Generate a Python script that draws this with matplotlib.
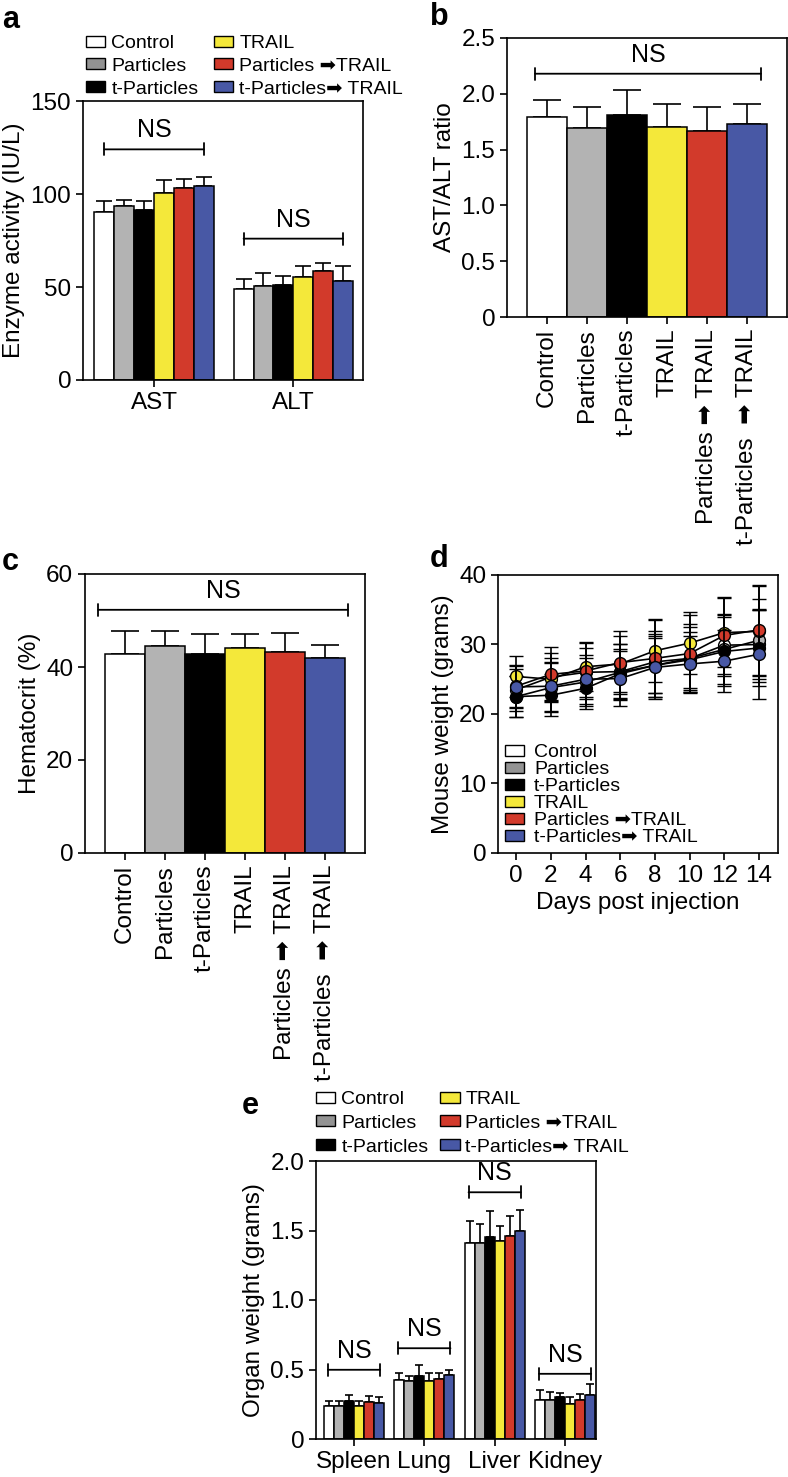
import numpy as np
import matplotlib
matplotlib.use('Agg')
import matplotlib.pyplot as plt
from matplotlib.patches import Patch

plt.rcParams['font.family'] = ['Liberation Sans', 'DejaVu Sans']
plt.rcParams['axes.linewidth'] = 1.2
plt.rcParams['xtick.major.width'] = 1.2
plt.rcParams['ytick.major.width'] = 1.2
plt.rcParams['xtick.major.size'] = 5
plt.rcParams['ytick.major.size'] = 5
plt.rcParams['font.size'] = 17.5

# ---------------- data ----------------
groups = ['Control', 'Particles', 't-Particles', 'TRAIL',
          'Particles \u27a1TRAIL', 't-Particles\u27a1 TRAIL']
tick_groups = ['Control', 'Particles', 't-Particles', 'TRAIL',
               'Particles \u27a1 TRAIL', 't-Particles  \u27a1 TRAIL']
colors = ['#ffffff', '#b3b3b3', '#000000', '#f4e83a', '#d23a2b', '#4858a5']
legend_colors = ['#ffffff', '#939393', '#000000', '#f4e83a', '#d23a2b', '#4858a5']

# panel a: enzyme activity (IU/L)
enzymes = ['AST', 'ALT']
ast_mean = [90.5, 93.4, 91.4, 100.4, 103.4, 104.1]
ast_err = [5.9, 3.4, 5.0, 6.9, 4.6, 5.0]
alt_mean = [48.7, 50.5, 51.1, 55.4, 58.4, 53.4]
alt_err = [5.6, 7.2, 5.0, 5.7, 4.5, 8.1]
a_ns_y = [124, 76]

# panel b: AST/ALT ratio
ratio_mean = [1.79, 1.694, 1.806, 1.704, 1.669, 1.733]
ratio_err = [0.157, 0.189, 0.224, 0.205, 0.211, 0.176]
b_ns_y = 2.18

# panel c: hematocrit (%)
hct_mean = [42.8, 44.6, 42.9, 44.0, 43.2, 41.9]
hct_err = [5.0, 3.2, 4.1, 3.0, 4.2, 2.8]
c_ns_y = 52.3

# panel d: mouse weight (grams)
days = [0, 2, 4, 6, 8, 10, 12, 14]
w_control = [22.5, 23.8, 24.6, 26.0, 27.0, 28.0, 29.9, 30.0]
w_particles = [23.5, 25.3, 26.0, 26.1, 27.5, 28.0, 29.3, 30.6]
w_tparticles = [22.5, 22.7, 23.7, 25.8, 27.0, 27.8, 29.0, 29.5]
w_trail = [25.4, 25.0, 26.8, 27.2, 29.1, 30.2, 31.7, 31.9]
w_p_trail = [24.0, 25.7, 26.2, 27.4, 28.0, 28.7, 31.3, 32.1]
w_tp_trail = [23.9, 24.0, 25.0, 25.1, 26.7, 27.2, 27.6, 28.6]
sd_control = [3.0, 3.5, 3.5, 4.0, 4.5, 5.0, 4.5, 5.0]
sd_particles = [3.0, 3.5, 3.5, 4.0, 4.5, 4.5, 5.0, 6.0]
sd_tparticles = [3.0, 3.0, 3.0, 3.5, 4.0, 4.0, 5.0, 5.5]
sd_trail = [3.0, 3.0, 3.5, 4.0, 4.5, 4.5, 5.0, 6.5]
sd_p_trail = [3.0, 4.0, 4.0, 4.5, 5.5, 5.5, 5.5, 6.5]
sd_tp_trail = [3.0, 3.5, 3.5, 4.0, 4.5, 4.0, 4.5, 6.5]

# panel e: organ weight (grams)
organs = ['Spleen', 'Lung', 'Liver', 'Kidney']
spleen_mean = [0.234, 0.239, 0.270, 0.234, 0.268, 0.258]
spleen_err = [0.041, 0.036, 0.046, 0.041, 0.038, 0.041]
lung_mean = [0.421, 0.414, 0.450, 0.414, 0.430, 0.462]
lung_err = [0.053, 0.041, 0.079, 0.060, 0.044, 0.036]
liver_mean = [1.407, 1.411, 1.450, 1.421, 1.462, 1.498]
liver_err = [0.162, 0.134, 0.191, 0.110, 0.141, 0.148]
kidney_mean = [0.278, 0.278, 0.299, 0.254, 0.282, 0.316]
kidney_err = [0.071, 0.062, 0.031, 0.047, 0.041, 0.081]
e_ns_y = [0.498, 0.653, 1.775, 0.469]

# ---------------- layout ----------------
W, H = 788, 1477
fig = plt.figure(figsize=(W / 100, H / 100), dpi=100)


def axrect(l, t, w, h):
    return [l / W, 1 - (t + h) / H, w / W, h / H]


def ns_bracket(ax, x0, x1, y, fs=18):
    ax.annotate('', xy=(x0, y), xytext=(x1, y),
                arrowprops=dict(arrowstyle='|-|, widthA=0.25, widthB=0.25',
                                lw=1.3, color='k', shrinkA=0, shrinkB=0))
    ax.annotate('NS', xy=((x0 + x1) / 2, y), xytext=(0, 5),
                textcoords='offset points', ha='center', va='bottom', fontsize=fs)


def legend_handles():
    return [Patch(facecolor=c, edgecolor='k', linewidth=1.0) for c in legend_colors]


def grouped_bars(ax, means_list, errs_list, capsize):
    n = len(groups)
    w = 1.0 / (n + 1)
    for gi, (means, errs) in enumerate(zip(means_list, errs_list)):
        xs = gi + (np.arange(n) - (n - 1) / 2) * w
        ax.bar(xs, means, width=w, color=colors, edgecolor='k', linewidth=1.1, zorder=2)
        ax.errorbar(xs, means, yerr=[np.zeros(n), errs], fmt='none', ecolor='k',
                    elinewidth=1.2, capsize=capsize, capthick=1.2, zorder=1)
    return w


# ---- panel a ----
axa = fig.add_axes(axrect(83, 101, 280, 279))
w = grouped_bars(axa, [ast_mean, alt_mean], [ast_err, alt_err], 6)
axa.set_xlim(-0.51, 1.5)
axa.set_ylim(0, 150)
axa.set_yticks([0, 50, 100, 150])
axa.set_xticks(range(len(enzymes)))
axa.set_xticklabels(enzymes)
axa.set_ylabel('Enzyme activity (IU/L)')
for gi, y in enumerate(a_ns_y):
    ns_bracket(axa, gi - 2.5 * w, gi + 2.5 * w, y)
fig.legend(legend_handles(), groups, loc='upper left',
           bbox_to_anchor=(86 / W, 1 - 35 / H), bbox_transform=fig.transFigure,
           ncol=2, frameon=False, fontsize=14, borderpad=0, borderaxespad=0,
           handlelength=1.0, handleheight=0.5, handletextpad=0.3,
           labelspacing=0.3, columnspacing=0.8)
fig.text(2 / W, 1 - 28 / H, 'a', fontsize=22, fontweight='bold', va='baseline')


# ---- panels b & c ----
def single_bars(ax, means, errs, ns_y, ns_x0, ns_x1):
    x = np.arange(len(groups))
    ax.bar(x, means, width=1.0, color=colors, edgecolor='k', linewidth=1.1, zorder=2)
    ax.errorbar(x, means, yerr=[np.zeros(len(x)), errs], fmt='none', ecolor='k',
                elinewidth=1.2, capsize=10, capthick=1.2, zorder=1)
    ax.set_xlim(-1, 6)
    ax.set_xticks(x)
    ax.set_xticklabels(tick_groups, rotation=90, ha='center', va='top')
    ns_bracket(ax, ns_x0, ns_x1, ns_y)


axb = fig.add_axes(axrect(507, 38, 280, 279))
single_bars(axb, ratio_mean, ratio_err, b_ns_y, -0.3, 5.35)
axb.set_ylim(0, 2.5)
axb.set_yticks([0, 0.5, 1.0, 1.5, 2.0, 2.5])
axb.set_yticklabels(['0', '0.5', '1.0', '1.5', '2.0', '2.5'])
axb.set_ylabel('AST/ALT ratio')
fig.text(430 / W, 1 - 25 / H, 'b', fontsize=22, fontweight='bold', va='baseline')

axc = fig.add_axes(axrect(85, 574, 280, 279))
single_bars(axc, hct_mean, hct_err, c_ns_y, -0.67, 5.57)
axc.set_ylim(0, 60)
axc.set_yticks([0, 20, 40, 60])
axc.set_ylabel('Hematocrit (%)')
fig.text(2 / W, 1 - 570 / H, 'c', fontsize=22, fontweight='bold', va='baseline')

# ---- panel d ----
axd = fig.add_axes(axrect(498, 575, 280, 278))
series = [w_control, w_particles, w_tparticles, w_trail, w_p_trail, w_tp_trail]
sds = [sd_control, sd_particles, sd_tparticles, sd_trail, sd_p_trail, sd_tp_trail]
for k, (vals, sd) in enumerate(zip(series, sds)):
    axd.errorbar(days, vals, yerr=sd, fmt='-o', color='k', lw=1.2,
                 mfc=colors[k], mec='k', mew=1.0, ms=8.5,
                 ecolor='k', elinewidth=1.2, capsize=5, capthick=1.2, zorder=2 + k)
axd.set_xlim(-1.05, 15.1)
axd.set_ylim(0, 40)
axd.set_xticks(days)
axd.set_yticks([0, 10, 20, 30, 40])
axd.set_xlabel('Days post injection')
axd.set_ylabel('Mouse weight (grams)')
axd.legend(legend_handles(), groups, loc='lower left', frameon=False, fontsize=14,
           borderpad=0, borderaxespad=0.35, handlelength=1.0, handleheight=0.5,
           handletextpad=0.5, labelspacing=0.0)
fig.text(430 / W, 1 - 567 / H, 'd', fontsize=22, fontweight='bold', va='baseline')

# ---- panel e ----
axe = fig.add_axes(axrect(316, 1161, 280, 278))
w = grouped_bars(axe, [spleen_mean, lung_mean, liver_mean, kidney_mean],
                 [spleen_err, lung_err, liver_err, kidney_err], 3)
axe.set_xlim(-0.54, 3.44)
axe.set_ylim(0, 2.0)
axe.set_yticks([0, 0.5, 1.0, 1.5, 2.0])
axe.set_yticklabels(['0', '0.5', '1.0', '1.5', '2.0'])
axe.set_xticks(range(len(organs)))
axe.set_xticklabels(organs)
axe.set_ylabel('Organ weight (grams)')
for gi, y in enumerate(e_ns_y):
    ns_bracket(axe, gi - 2.6 * w, gi + 2.6 * w, y)
fig.legend(legend_handles(), groups, loc='upper left',
           bbox_to_anchor=(316 / W, 1 - 1091 / H), bbox_transform=fig.transFigure,
           ncol=2, frameon=False, fontsize=14, borderpad=0, borderaxespad=0,
           handlelength=1.0, handleheight=0.5, handletextpad=0.3,
           labelspacing=0.35, columnspacing=0.6)
fig.text(242 / W, 1 - 1114 / H, 'e', fontsize=22, fontweight='bold', va='baseline')

fig.savefig('out.png', dpi=100)
